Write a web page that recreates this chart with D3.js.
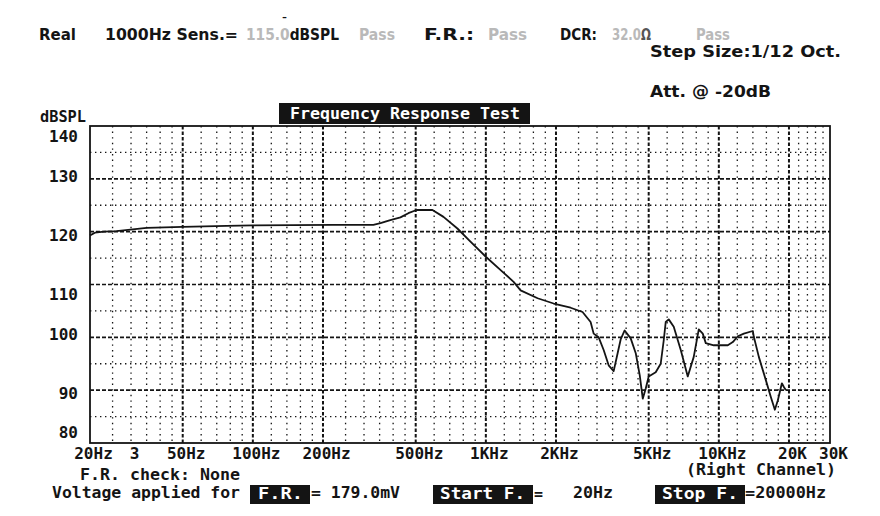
<!DOCTYPE html>
<html><head><meta charset="utf-8">
<script src="https://cdn.jsdelivr.net/npm/d3@7"></script>
<style>body{margin:0;background:#fff}svg{display:block}</style>
</head><body><svg id="c" width="880" height="516"></svg>
<script>
// ---- data ----
const freqs = [20,21,23,26,35,50,77,100,220,329,353,389,430,465,504,590,658,755,859,997,1180,1316,1410,1668,1954,2312,2600,2816,2902,3050,3204,3366,3537,3678,3790,3943,4185,4399,4577,4715,4856,5000,5358,5630,5800,5916,6094,6404,6864,7355,7804,8202,8531,8788,9514,10928,11482,12064,12804,13992,14132,14848,15912,16718,17394,17920,18644,19020,19400];
const spl = [119.3,119.8,120.0,120.1,120.7,120.9,121.1,121.2,121.3,121.3,121.6,122.2,122.7,123.5,124.1,124.1,122.8,120.6,118.1,115.3,112.4,110.5,108.9,107.4,106.4,105.6,104.8,102.9,100.7,100.0,97.6,94.7,93.6,97.0,99.6,101.3,99.8,97.0,92.8,88.4,90.3,92.6,93.4,95.0,99.4,102.9,103.4,102.0,97.6,92.6,96.3,101.5,100.7,98.9,98.5,98.5,99.1,100.2,100.7,101.2,100.1,96.3,91.9,88.7,86.3,88.1,91.3,90.6,90.0];
const yTicks = [140,130,120,110,100,90,80];
const yMajorGrid = [90,100,110,120,130];
const yMinorGrid = [85,95,105,115,125,135];
const xMajorGrid = [50,100,200,500,1000,2000,5000,10000,20000];
const xMinorGrid = [25,30,35,40,45,60,70,80,90,120,140,160,180,250,300,350,400,450,600,700,800,900,1200,1400,1600,1800,2500,3000,3500,4000,4500,6000,7000,8000,9000,12000,14000,16000,18000,22000,24000,26000,28000];
const xTickValues = [20,30,50,100,200,500,1000,2000,5000,10000,20000,30000];
const xTickLabels = ["20Hz","3","50Hz","100Hz","200Hz","500Hz","1KHz","2KHz","5KHz","10KHz","20K","30K"];
const title = "Frequency Response Test";
const yUnit = "dBSPL";

// ---- layout ----
const L = 90, R = 830, T = 126, B = 443;
const svg = d3.select("#c");
const x = d3.scaleLog().domain([20, 30000]).range([L, R]);
const y = d3.scaleLinear().domain([80, 140]).range([B, T]);
const FM = "'DejaVu Sans Mono','Liberation Mono',monospace";
const ink = "#141414", gray = "#b9b9b9";

const g = svg.append("g");
// grids
g.selectAll(".xmin").data(xMinorGrid).join("line")
  .attr("x1", d => x(d)).attr("x2", d => x(d)).attr("y1", T).attr("y2", B)
  .attr("stroke", ink).attr("stroke-width", 1.3).attr("stroke-dasharray", "1.4,4.2");
g.selectAll(".ymin").data(yMinorGrid).join("line")
  .attr("x1", L).attr("x2", R).attr("y1", d => y(d)).attr("y2", d => y(d))
  .attr("stroke", ink).attr("stroke-width", 1.3).attr("stroke-dasharray", "1.4,3.6");
g.selectAll(".ymaj").data(yMajorGrid).join("line")
  .attr("x1", L).attr("x2", R).attr("y1", d => y(d)).attr("y2", d => y(d))
  .attr("stroke", ink).attr("stroke-width", 1.6).attr("stroke-dasharray", "4,2");
g.selectAll(".xmaj").data(xMajorGrid).join("line")
  .attr("x1", d => x(d)).attr("x2", d => x(d)).attr("y1", T).attr("y2", B)
  .attr("stroke", ink).attr("stroke-width", 2).attr("stroke-dasharray", "3.5,2");
// frame
g.append("rect").attr("x", L).attr("y", T).attr("width", R - L).attr("height", B - T)
  .attr("fill", "none").attr("stroke", ink).attr("stroke-width", 1.8);

// curve
g.append("path").datum(freqs.map((f, i) => [f, spl[i]]))
  .attr("fill", "none").attr("stroke", ink).attr("stroke-width", 1.8).attr("stroke-linejoin", "round")
  .attr("d", d3.line().x(d => x(d[0])).y(d => y(d[1])));

// y axis labels (snapped to the text rows of the original screen)
const rowY = v => 136 + Math.max(0, Math.min(15, Math.round((y(v) - 136) / 19.75))) * 19.75;
const ya = svg.append("g").attr("transform", `translate(${L},0)`)
  .call(d3.axisLeft(y).tickValues(yTicks).tickSize(0).tickPadding(12).tickFormat(d3.format("d")));
ya.select(".domain").remove();
ya.selectAll("text").attr("font-family", FM).attr("font-weight", "bold").attr("font-size", 16)
  .attr("fill", ink).attr("dy", "0.35em").attr("y", d => rowY(d) - y(d));

// x axis labels
const xa = svg.append("g").attr("transform", `translate(0,${B})`)
  .call(d3.axisBottom(x).tickValues(xTickValues).tickSize(0).tickPadding(0)
    .tickFormat((d, i) => xTickLabels[i]));
xa.select(".domain").remove();
xa.selectAll("text").attr("font-family", FM).attr("font-weight", "bold").attr("font-size", 16)
  .attr("fill", ink).attr("dy", 0).attr("y", 16).attr("x", 3);

svg.append("text").attr("x", 40).attr("y", 122).text(yUnit)
  .attr("font-family", FM).attr("font-weight", "bold").attr("font-size", 15).attr("fill", ink)
  .attr("textLength", 46).attr("lengthAdjust", "spacingAndGlyphs");

// title box
svg.append("rect").attr("x", 279).attr("y", 103).attr("width", 251).attr("height", 21).attr("fill", ink);
svg.append("text").attr("x", 405).attr("y", 119).attr("text-anchor", "middle").text(title)
  .attr("font-family", FM).attr("font-weight", "bold").attr("font-size", 16).attr("fill", "#fff")
  .attr("textLength", 230).attr("lengthAdjust", "spacingAndGlyphs");

// helper for plain text; parts = [[string, colour], ...]
function txt(parts, x0, y0, w, opts = {}) {
  if (typeof parts === "string") parts = [[parts, opts.color || ink]];
  const t = svg.append("text").attr("x", x0).attr("y", y0)
    .attr("font-family", opts.family || FM).attr("font-weight", "bold")
    .attr("font-size", opts.size || 16).attr("fill", ink);
  parts.forEach(([s, c]) => t.append("tspan").attr("fill", c).text(s));
  if (w) t.attr("textLength", w).attr("lengthAdjust", "spacingAndGlyphs");
  return t;
}
const FH = "'DejaVu Sans Condensed','Liberation Sans Narrow','Liberation Sans',sans-serif";
const hs = {family: FH, size: 15};
// header
txt("Real", 39, 40, 37, hs);
txt("1000Hz Sens.=", 105, 40, 133, hs);
txt([["115.0", gray], ["dBSPL", ink]], 246, 40, 93, hs);
txt("-", 282, 20, 5, {family: FH, size: 8});
txt("Pass", 359, 40, 36, {...hs, color: gray});
txt("F.R.:", 424, 40, 50, hs);
txt("Pass", 488, 40, 39, {...hs, color: gray});
txt("DCR:", 560, 40, 37, hs);
txt([["32.0", gray], ["Ω", "#555"]], 612, 40, 39, hs);
txt("Pass", 696, 40, 34, {...hs, color: gray});
txt("Step Size:1/12 Oct.", 650, 57, 191, {family: FH, size: 16});
txt("Att. @ -20dB", 650, 97, 121, {family: FH, size: 16});

// footer
txt("(Right Channel)", 686, 475, 150);
txt("F.R. check: None", 80, 480, 160);
txt("Voltage applied for", 52, 498, 188);
svg.append("rect").attr("x", 250).attr("y", 485).attr("width", 60).attr("height", 19).attr("fill", ink);
txt("F.R.", 258, 499, 45, {color: "#fff"});
txt("= 179.0mV", 311, 498, 89);
svg.append("rect").attr("x", 433).attr("y", 485).attr("width", 100).attr("height", 19).attr("fill", ink);
txt("Start F.", 440, 499, 85, {color: "#fff"});
txt("=", 534, 499, 9);
txt("20Hz", 573, 498, 40);
svg.append("rect").attr("x", 655).attr("y", 485).attr("width", 90).attr("height", 19).attr("fill", ink);
txt("Stop F.", 662, 499, 76, {color: "#fff"});
txt("=20000Hz", 745, 498, 81);
</script></body></html>
